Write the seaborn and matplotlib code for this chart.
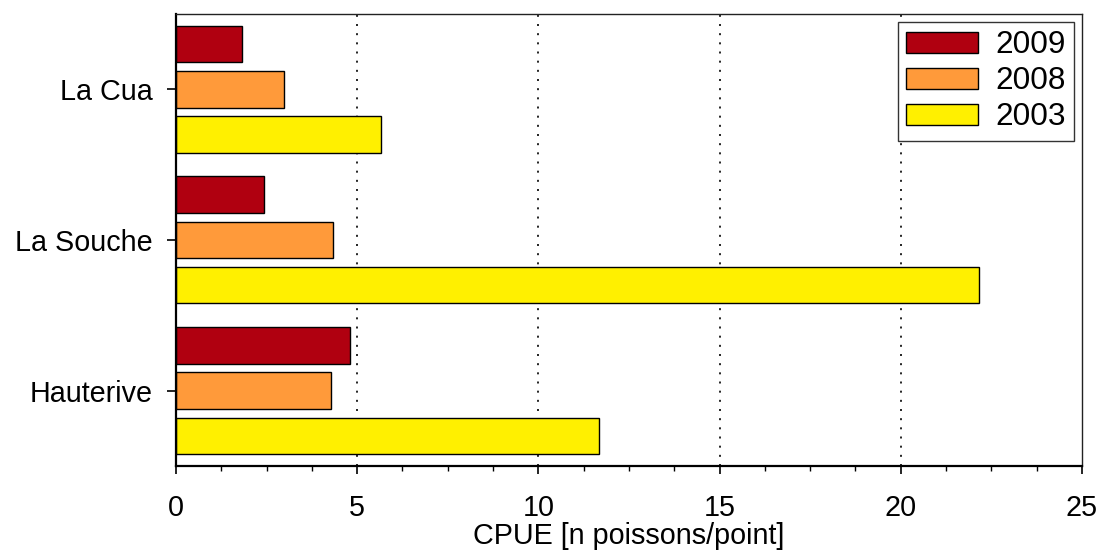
import matplotlib
matplotlib.use("Agg")
import matplotlib.pyplot as plt
import seaborn as sns
import pandas as pd
from matplotlib.ticker import MultipleLocator

sites = ["La Cua", "La Souche", "Hauterive"]
years = ["2009", "2008", "2003"]
cpue_2009 = [1.81, 2.43, 4.81]
cpue_2008 = [2.99, 4.32, 4.29]
cpue_2003 = [5.67, 22.16, 11.68]
colors = ["#B00010", "#FF9A3A", "#FFF000"]
xlabel = "CPUE [n poissons/point]"

rows = []
for yr, vals in zip(years, [cpue_2009, cpue_2008, cpue_2003]):
    for s, v in zip(sites, vals):
        rows.append({"site": s, "year": yr, "cpue": v})
df = pd.DataFrame(rows)

sns.set_theme(style="white")
plt.rcParams['font.family'] = ['Liberation Sans', 'DejaVu Sans']
plt.rcParams['text.color'] = 'black'
plt.rcParams['axes.labelcolor'] = 'black'
plt.rcParams['xtick.color'] = 'black'
plt.rcParams['ytick.color'] = 'black'
FS = 20.7
LFS = 22.7

fig = plt.figure(figsize=(11, 5.58), dpi=100)
ax = fig.add_axes([0.16, 0.1649, 0.8236, 0.81])

ax.set_axisbelow(True)
for xv in [5, 10, 15, 20]:
    ax.axvline(xv, color="black", lw=1.2, linestyle=(0, (1.2, 4.3)), zorder=0)

sns.barplot(data=df, y="site", x="cpue", hue="year", hue_order=years,
            order=sites, palette=colors, orient="h", width=0.9, gap=0.19,
            edgecolor="black", linewidth=1.0, saturation=1, ax=ax, zorder=2)

ax.set_xlim(0, 25)
ax.set_ylim(2.5, -0.5)
ax.xaxis.set_major_locator(MultipleLocator(5))
ax.xaxis.set_minor_locator(MultipleLocator(1.25))
ax.tick_params(axis="x", which="major", direction="out", length=6, width=1.2,
               labelsize=FS, pad=14, colors="black", bottom=True)
ax.tick_params(axis="x", which="minor", direction="out", length=3.6, width=1.0,
               bottom=True)
ax.tick_params(axis="y", which="major", direction="out", length=6.5, width=1.2,
               labelsize=FS, pad=10.5, left=True, colors="black")
ax.set_xlabel(xlabel, fontsize=FS, labelpad=0.5, color="black")
ax.set_ylabel("")

for side in ["left", "bottom"]:
    ax.spines[side].set_linewidth(1.6)
    ax.spines[side].set_color("black")
for side in ["top", "right"]:
    ax.spines[side].set_linewidth(1.0)
    ax.spines[side].set_color("#222222")
    ax.spines[side].set_visible(True)

handles, labels = ax.get_legend_handles_labels()
leg = ax.legend(handles, labels, loc="upper right", fontsize=LFS, frameon=True,
                fancybox=False, edgecolor="#333333", framealpha=1,
                handlelength=2.28, handleheight=0.63, handletextpad=0.54,
                labelspacing=0.19, borderpad=0.26, borderaxespad=0.26)
leg.get_frame().set_linewidth(1.0)
for t in leg.get_texts():
    t.set_color("black")

fig.savefig("out.png", dpi=100, facecolor="white")
